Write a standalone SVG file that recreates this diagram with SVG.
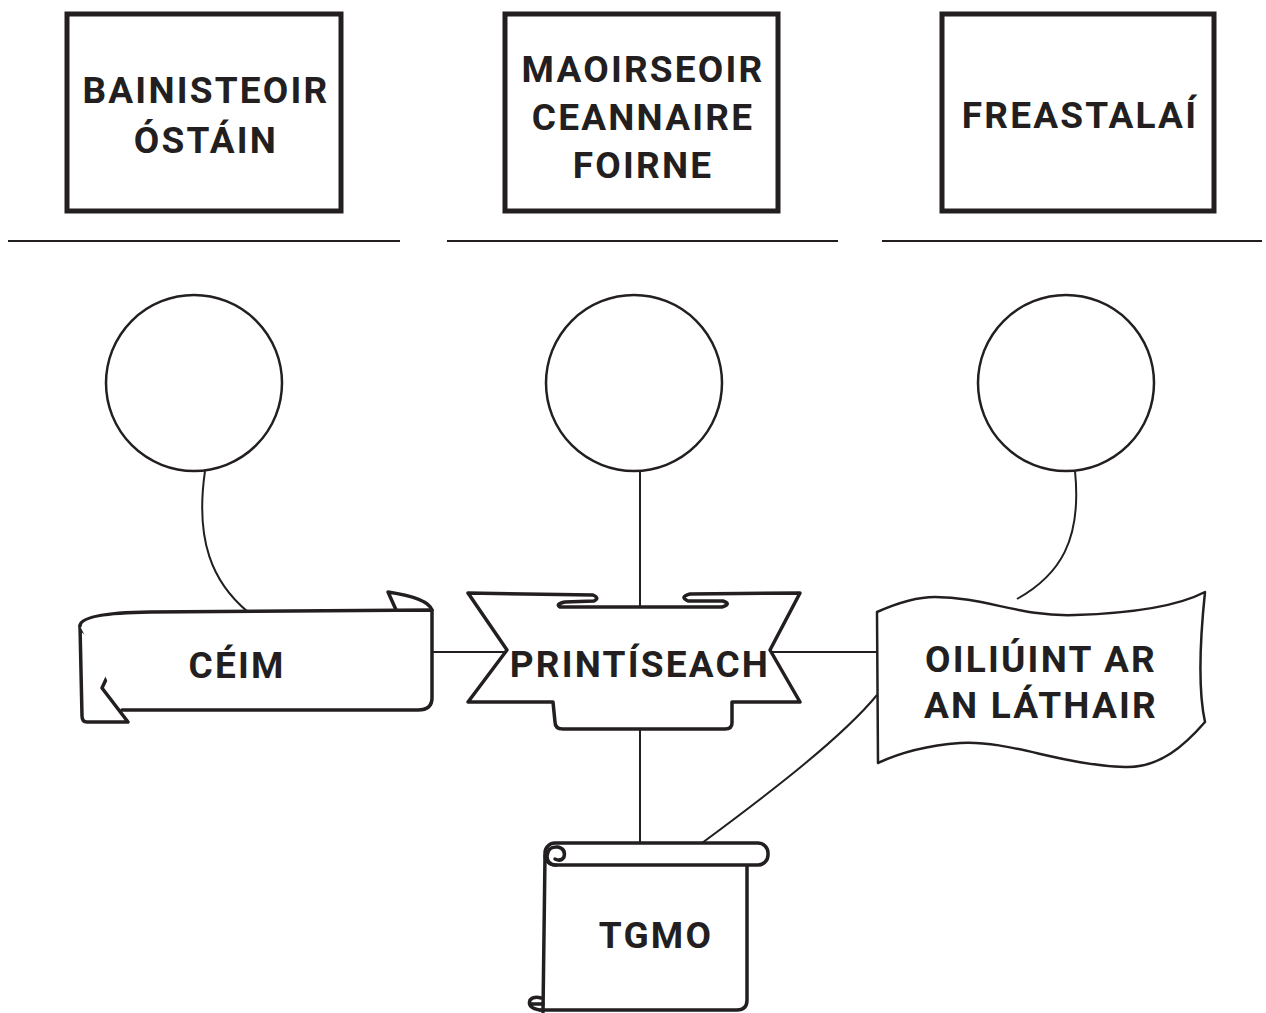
<svg xmlns="http://www.w3.org/2000/svg" width="1266" height="1013" viewBox="0 0 1266 1013">
<style>
.box{fill:#fff;stroke:#231f20;stroke-width:5}
.circ{fill:#fff;stroke:#231f20;stroke-width:2.5}
.rule{stroke:#231f20;stroke-width:2}
.con{fill:none;stroke:#231f20;stroke-width:2}
.shp{fill:#fff;stroke:#231f20;stroke-width:3.5;stroke-linejoin:round;stroke-linecap:round}
.thin{fill:#fff;stroke:#231f20;stroke-width:2.5;stroke-linejoin:round}
.t{font-family:Roboto,"DejaVu Sans",sans-serif;font-weight:bold;font-size:37px;letter-spacing:2.2px;fill:#231f20;text-anchor:middle}
</style>
<rect width="1266" height="1013" fill="#fff"/>
<g id="rules">
<line class="rule" x1="8" y1="241" x2="400" y2="241"/>
<line class="rule" x1="447" y1="241" x2="838" y2="241"/>
<line class="rule" x1="882" y1="241" x2="1262" y2="241"/>
</g>
<g id="connectors">
<path class="con" d="M205,471 C195,540 212,582 248,612"/>
<line class="con" x1="640" y1="471" x2="640" y2="607"/>
<path class="con" d="M1075,471 C1082,540 1060,575 1017,599"/>
<line class="con" x1="432" y1="652" x2="507" y2="652"/>
<line class="con" x1="772" y1="652" x2="878" y2="652"/>
<line class="con" x1="640" y1="729" x2="640" y2="843"/>
<path class="con" d="M877,695 C840,740 760,800 702,843"/>
</g>
<g id="box1"><rect class="box" x="67" y="14" width="274" height="197"/>
<text class="t" x="206" y="103">BAINISTEOIR</text><text class="t" x="206" y="153">ÓSTÁIN</text></g>
<g id="box2"><rect class="box" x="505" y="14" width="273" height="197"/>
<text class="t" x="643" y="82">MAOIRSEOIR</text><text class="t" x="643" y="130">CEANNAIRE</text><text class="t" x="643" y="178">FOIRNE</text></g>
<g id="box3"><rect class="box" x="942" y="14" width="272" height="197"/>
<text class="t" x="1080" y="128">FREASTALAÍ</text></g>
<g id="circle1"><circle class="circ" cx="194" cy="383" r="88"/></g>
<g id="circle2"><circle class="circ" cx="634" cy="383" r="88"/></g>
<g id="circle3"><circle class="circ" cx="1066" cy="383" r="88"/></g>
<g id="ceim">
<path class="shp" d="M388,592 L397,612 M388,592 Q428,598 432,610"/>
<path class="shp" d="M123,643 L102,688 L128,722 L87,722 Q82,722 82,716 L80,626 Q84,640 123,643 Z"/>
<path class="shp" d="M80,626 Q80,613 150,612 L432,610 L432,698 Q432,710 418,710 L122,710"/>
<text class="t" x="237" y="678">CÉIM</text>
</g>
<g id="printiseach">
<path class="shp" d="M468,593 L593,595 Q600,598 594,601 L565,602 Q555,604 560,607 L722,607 Q732,604 723,601 L688,601 Q679,597 690,594 L800,593 L770,650 L800,702 L732,702 L732,723 Q732,729 725,729 L563,729 Q555,729 555,722 L553,702 L468,702 L507,650 Z"/>
<text class="t" x="640" y="677">PRINTÍSEACH</text>
</g>
<g id="oiliuint">
<path class="thin" d="M877,612 C895,604 915,597 935,597 C985,597 1020,617 1075,615 C1140,613 1180,605 1205,592 C1200,640 1198,690 1205,722 C1185,745 1160,768 1125,767 C1060,765 1010,740 960,743 C920,746 895,755 878,763 Z"/>
<text class="t" x="1041" y="672">OILIÚINT AR</text><text class="t" x="1041" y="718">AN LÁTHAIR</text>
</g>
<g id="tgmo">
<path class="shp" d="M545,856 L543,1012 M747,865 L747,1000 Q747,1010 737,1010 L540,1010"/>
<rect class="shp" x="545" y="843" width="223" height="22" rx="10"/>
<path class="shp" d="M556,865 Q547,865 547,856 Q548,846 558,847 Q566,849 564,857 Q561,862 555,859"/>
<path class="shp" d="M540,1010 Q527,1008 530,1000 Q534,996 541,998 M530,1004 L543,1004"/>
<text class="t" x="656" y="948">TGMO</text>
</g>
</svg>
